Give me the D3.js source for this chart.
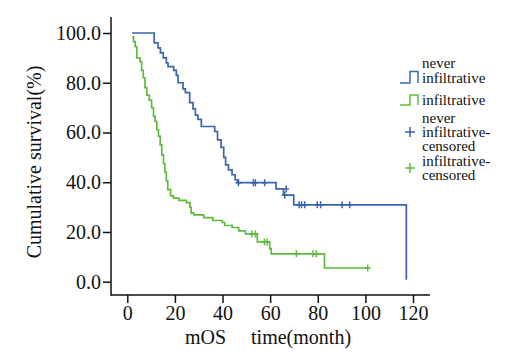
<!DOCTYPE html>
<html lang="en">
<head>
<meta charset="UTF-8">
<title>Cumulative survival</title>
<style>
  body { margin: 0; background: #fff; }
  svg text { font-family: "Liberation Serif", "Times New Roman", serif; fill: #111; }
</style>
</head>
<body>
<svg id="km" width="505" height="354"></svg>
<script src="https://d3js.org/d3.v7.min.js"></script>
<script>
// never infiltrative: step times (months) and survival (%)
var neverTimes = [2, 11.3, 12.9, 13.9, 15.1, 16.4, 17.1, 19.5, 20.6, 21.3, 23.4, 24.4, 26.2, 27.6, 28.6, 29.7, 31.1,
                  36.7, 37.9, 39.4, 40.5, 41.3, 42.5, 44.0, 45.3, 46.3, 62.5, 65.6, 69.9, 117.2];
var neverSurv  = [100, 96, 94, 92, 90, 88, 86.5, 85, 83, 80, 77.5, 76, 72, 69.5, 67, 65.3, 62.4,
                  60.4, 57, 54, 50, 47, 45, 43, 41, 39.8, 37.3, 34.8, 30.9, 0.8];
var neverCensTimes = [46.7, 53.0, 53.8, 57.7, 66.7, 66.1, 72.2, 73.2, 74.5, 79.8, 81.2, 90.2, 93.4];
var neverCensSurv  = [39.8, 39.8, 39.8, 39.8, 37.3, 34.8, 30.9, 30.9, 30.9, 30.9, 30.9, 30.9, 30.9];

// infiltrative
var infTimes = [2.0, 2.6, 3.3, 4.0, 5.3, 6.0, 6.7, 7.4, 8.2, 9.2, 10.2, 11.0, 11.7, 12.4, 13.1, 13.8, 14.5, 15.2,
                15.8, 16.4, 17.0, 18.2, 19.4, 21.7, 24.8, 26.3, 26.8, 28.0, 32.1, 35.9, 39.9, 40.9, 44.0, 46.8,
                49.6, 54.6, 59.8, 60.4, 82.8, 101];
var infSurv  = [98.5, 96.5, 94.5, 90, 88.5, 85, 82, 78, 75, 73, 70, 66.5, 64.5, 61, 58.5, 55, 51, 47.5,
                44, 40.5, 37, 34.5, 33.6, 32.7, 31.8, 30, 27.6, 26.9, 25.8, 24.6, 23.8, 22.6, 21.8, 20.4,
                19.2, 16, 13.3, 11.2, 5.5, 5.5];
var infCensTimes = [52.4, 53.8, 57.6, 58.7, 71, 78, 79.4, 101];
var infCensSurv  = [19.2, 19.2, 16, 16, 11.2, 11.2, 11.2, 5.5];

var xTicks = [0, 20, 40, 60, 80, 100, 120];
var yTicks = [0, 20, 40, 60, 80, 100];
var legendLabels = [["never", "infiltrative"], ["infiltrative"], ["never", "infiltrative-", "censored"], ["infiltrative-", "censored"]];

var blue = "#3a65ad", green = "#5fbb3d";

var svg = d3.select("#km");

var x = d3.scaleLinear().domain([0, 120]).range([127.3, 413]);
var y = d3.scaleLinear().domain([0, 100]).range([281.7, 33]);

var axisY0 = 295, axisX0 = 111;

// axes
var xAxis = svg.append("g")
    .attr("transform", "translate(0," + axisY0 + ")")
    .call(d3.axisBottom(x).tickValues(xTicks).tickSize(8).tickPadding(3).tickSizeOuter(0));
var yAxis = svg.append("g")
    .attr("transform", "translate(" + axisX0 + ",0)")
    .call(d3.axisLeft(y).tickValues(yTicks).tickFormat(d3.format(".1f")).tickSize(8).tickPadding(2).tickSizeOuter(0));

[xAxis, yAxis].forEach(function(g) {
    g.select(".domain").remove();
    g.selectAll(".tick line").attr("stroke", "#111").attr("stroke-width", 1.5);
    g.selectAll(".tick text").style("font-size", "20px").style("font-family", "'Liberation Serif', serif").attr("fill", "#111");
});

svg.append("line").attr("x1", axisX0).attr("x2", axisX0).attr("y1", 17).attr("y2", axisY0 + 0.75)
    .attr("stroke", "#111").attr("stroke-width", 1.5);
svg.append("line").attr("x1", axisX0).attr("x2", 430).attr("y1", axisY0).attr("y2", axisY0)
    .attr("stroke", "#111").attr("stroke-width", 1.5);

// axis titles
svg.append("text")
    .attr("transform", "translate(41,162) rotate(-90)")
    .attr("text-anchor", "middle")
    .style("font-size", "20px")
    .text("Cumulative survival(%)");

svg.append("text")
    .attr("x", 268).attr("y", 344)
    .attr("text-anchor", "middle")
    .style("font-size", "20px")
    .style("white-space", "pre")
    .text("mOS     time(month)");

// curves
var line = d3.line()
    .x(function(d) { return x(d[0]); })
    .y(function(d) { return y(d[1]); })
    .curve(d3.curveStepAfter);

function drawSeries(times, surv, censT, censS, color) {
    var pts = times.map(function(t, i) { return [t, surv[i]]; });
    svg.append("path")
        .datum(pts)
        .attr("d", line)
        .attr("fill", "none")
        .attr("stroke", color)
        .attr("stroke-width", 1.7);

    var cens = censT.map(function(t, i) { return [t, censS[i]]; });
    svg.selectAll(null)
        .data(cens)
        .enter().append("path")
        .attr("d", function(d) {
            var cx = x(d[0]), cy = y(d[1]);
            return "M" + (cx - 3) + "," + cy + "H" + (cx + 3) + "M" + cx + "," + (cy - 3.5) + "V" + (cy + 3.5);
        })
        .attr("stroke", color)
        .attr("stroke-width", 1.5)
        .attr("fill", "none");
}

drawSeries(neverTimes, neverSurv, neverCensTimes, neverCensSurv, blue);
drawSeries(infTimes, infSurv, infCensTimes, infCensSurv, green);

// legend
var leg = svg.append("g");
var legItems = [
    { color: blue, type: "step", sy: 83, top: 71.5, base: [68, 83] },
    { color: green, type: "step", sy: 105, top: 95, base: [105] },
    { color: blue, type: "plus", sy: 132, base: [123, 137, 151] },
    { color: green, type: "plus", sy: 168, base: [166, 180] }
];
legItems.forEach(function(it, i) {
    if (it.type === "step") {
        leg.append("path")
            .attr("d", "M400," + it.sy + "H410V" + it.top + "H418V" + it.sy)
            .attr("fill", "none").attr("stroke", it.color).attr("stroke-width", 1.5);
    } else {
        leg.append("path")
            .attr("d", "M405," + it.sy + "H415M410," + (it.sy - 5) + "V" + (it.sy + 5))
            .attr("fill", "none").attr("stroke", it.color).attr("stroke-width", 1.5);
    }
    legendLabels[i].forEach(function(s, j) {
        leg.append("text")
            .attr("x", 422).attr("y", it.base[j])
            .style("font-size", "15px")
            .text(s);
    });
});
</script>
</body>
</html>
